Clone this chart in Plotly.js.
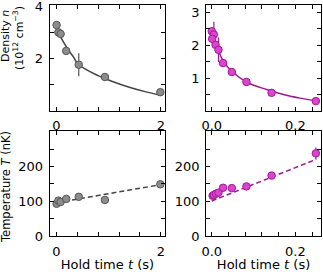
<!DOCTYPE html>
<html><head><meta charset="utf-8">
<script src="https://cdn.plot.ly/plotly-3.0.1.min.js"></script>
<style>html,body{margin:0;padding:0;background:#fff}#c{width:323px;height:272px}</style>
</head><body><div id="c"></div>
<script>
// Left column (gray) data
var tGray = [0.006, 0.04, 0.083, 0.19, 0.43, 0.93, 1.99];
var nGray = [3.28, 3.0, 2.94, 2.29, 1.76, 1.29, 0.71];
var nGrayErr = [0, 0, 0, 0, 0.44, 0, 0];
var TGray = [93, 102, 98, 107, 113, 104, 149];
var TGrayErr = [0, 0, 0, 0, 0, 0, 0];
var fitTGray = [0.05, 0.13, 0.23, 0.33, 0.42, 0.80, 1.06, 1.38, 1.70, 1.99];
var fitNGray = [2.96, 2.65, 2.33, 2.05, 1.78, 1.34, 1.13, 0.91, 0.73, 0.59];
var linTGray = [0, 2];
var linYGray = [96, 148];

// Right column (magenta) data
var tMag = [0.0, 0.005, 0.001, 0.009, 0.016, 0.027, 0.048, 0.083, 0.143, 0.249];
var nMag = [2.42, 2.32, 2.19, 2.01, 1.86, 1.46, 1.19, 0.89, 0.56, 0.31];
var nMagErr = [0, 0.39, 0, 0, 0.37, 0, 0, 0, 0, 0];
var tMagT = [0.002, 0.005, 0.01, 0.016, 0.027, 0.048, 0.083, 0.143, 0.249];
var TMag = [116, 118, 122, 125, 139, 138, 143, 174, 238];
var TMagErr = [8, 0, 0, 0, 0, 0, 0, 0, 17];
var fitTMag = [0.0016, 0.012, 0.028, 0.048, 0.084, 0.131, 0.171, 0.211, 0.251];
var fitNMag = [2.41, 1.96, 1.51, 1.21, 0.88, 0.66, 0.51, 0.40, 0.31];
var linTMag = [0, 0.25];
var linYMag = [101, 221];

var grayFill = '#8c8c8c', grayEdge = '#555555', grayLine = '#444444';
var magFill = '#dd44cc', magEdge = '#a0189a', magLine = '#9c1a8e';

function pts(x, y, err, xa, ya, fill, edge) {
  return {x: x, y: y, xaxis: xa, yaxis: ya, type: 'scatter', mode: 'markers',
    marker: {size: 7.5, color: fill, line: {color: edge, width: 1}},
    error_y: {type: 'data', array: err, visible: true, color: edge, thickness: 1.2, width: 0},
    showlegend: false, hoverinfo: 'skip', cliponaxis: false};
}
function line(x, y, xa, ya, col, dash, shape) {
  return {x: x, y: y, xaxis: xa, yaxis: ya, type: 'scatter', mode: 'lines',
    line: {color: col, width: 1.5, dash: dash, shape: shape},
    showlegend: false, hoverinfo: 'skip'};
}

var data = [
  line(fitTGray, fitNGray, 'x', 'y', grayLine, 'solid', 'spline'),
  pts(tGray, nGray, nGrayErr, 'x', 'y', grayFill, grayEdge),
  line(fitTMag, fitNMag, 'x2', 'y2', magLine, 'solid', 'spline'),
  pts(tMag, nMag, nMagErr, 'x2', 'y2', magFill, magEdge),
  line(linTGray, linYGray, 'x3', 'y3', grayLine, '5px,3px', 'linear'),
  pts(tGray, TGray, TGrayErr, 'x3', 'y3', grayFill, grayEdge),
  line(linTMag, linYMag, 'x4', 'y4', magLine, '5px,3px', 'linear'),
  pts(tMagT, TMag, TMagErr, 'x4', 'y4', magFill, magEdge)
];

var common = {showline: true, linecolor: '#000', linewidth: 1, mirror: 'allticks',
  ticks: 'inside', ticklen: 4, tickwidth: 1, tickcolor: '#000', showgrid: false,
  zeroline: false, tickmode: 'array', ticklabelstandoff: 3, ticklabeloverflow: 'allow',
  fixedrange: true};
function ax(o) { return Object.assign({}, common, o); }

var xTicksL = [0, 0.4, 0.8, 1.2, 1.6, 2.0], xTextL = ['0', '', '', '', '', '2'];
var xTicksR = [0, 0.04, 0.08, 0.12, 0.16, 0.2, 0.24], xTextR = ['0.0', '', '', '', '', '0.2', ''];
var colL = [0.154, 0.511], colR = [0.638, 0.994];
var rowT = [0.593, 0.980], rowB = [0.132, 0.518];

var layout = {
  width: 323, height: 272, margin: {l: 0, r: 0, t: 0, b: 0},
  paper_bgcolor: '#fff', plot_bgcolor: '#fff',
  font: {family: 'DejaVu Sans', size: 13, color: '#000'},
  xaxis: ax({domain: colL, anchor: 'y', range: [-0.125, 2.08], tickvals: xTicksL, ticktext: xTextL}),
  yaxis: ax({domain: rowT, anchor: 'x', range: [0, 4.03], tickvals: [1, 2, 3, 4], ticktext: ['', '2', '', '4']}),
  xaxis2: ax({domain: colR, anchor: 'y2', range: [-0.0136, 0.2614], tickvals: xTicksR, ticktext: xTextR}),
  yaxis2: ax({domain: rowT, anchor: 'x2', range: [0.02, 3.2], tickvals: [0.5, 1, 1.5, 2, 2.5, 3], ticktext: ['', '1', '', '2', '', '3']}),
  xaxis3: ax({domain: colL, anchor: 'y3', range: [-0.125, 2.08], tickvals: xTicksL, ticktext: xTextL,
    title: {text: 'Hold time <i>t</i> (s)', standoff: 3, font: {size: 13}}}),
  yaxis3: ax({domain: rowB, anchor: 'x3', range: [0, 302], tickvals: [0, 50, 100, 150, 200, 250, 300], ticktext: ['0', '', '100', '', '200', '', '']}),
  xaxis4: ax({domain: colR, anchor: 'y4', range: [-0.0136, 0.2614], tickvals: xTicksR, ticktext: xTextR,
    title: {text: 'Hold time <i>t</i> (s)', standoff: 3, font: {size: 13}}}),
  yaxis4: ax({domain: rowB, anchor: 'x4', range: [0, 302], tickvals: [0, 50, 100, 150, 200, 250, 300], ticktext: ['0', '', '100', '', '200', '', '']}),
  annotations: [
    {text: 'Density <i>n</i>', xref: 'paper', yref: 'paper', x: 6 / 323, y: 1 - 36 / 272,
     textangle: -90, showarrow: false, font: {size: 11}, xanchor: 'center', yanchor: 'middle'},
    {text: '(10<sup>12</sup> cm<sup>\u22123</sup>)', xref: 'paper', yref: 'paper', x: 19 / 323, y: 1 - 38 / 272,
     textangle: -90, showarrow: false, font: {size: 11}, xanchor: 'center', yanchor: 'middle'},
    {text: 'Temperature <i>T</i> (nK)', xref: 'paper', yref: 'paper', x: 6 / 323, y: 1 - 187 / 272,
     textangle: -90, showarrow: false, font: {size: 11.5}, xanchor: 'center', yanchor: 'middle'}
  ]
};
Plotly.newPlot('c', data, layout, {staticPlot: true, displayModeBar: false});
</script></body></html>
